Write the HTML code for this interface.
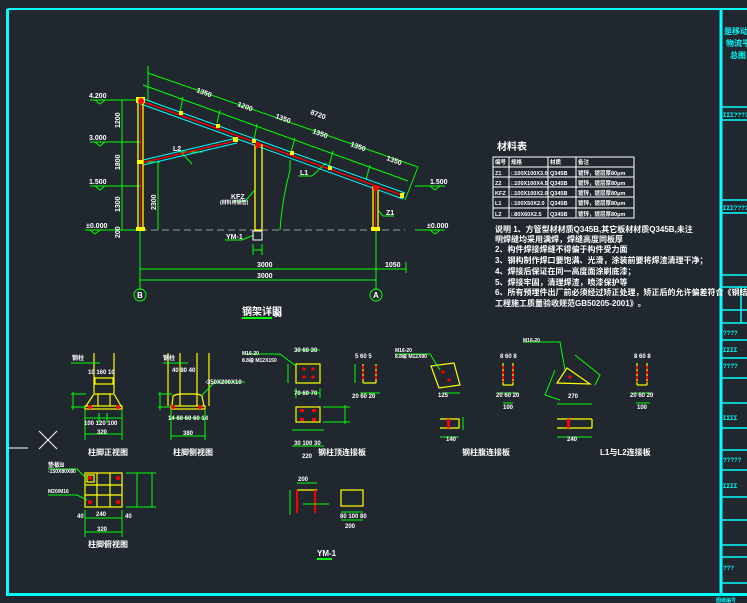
<!DOCTYPE html>
<html><head><meta charset="utf-8"><style>
html,body{margin:0;padding:0;background:#21272f;}
svg{display:block}
text{font-family:"Liberation Sans","Noto Sans CJK SC",sans-serif;fill:#fff;font-weight:bold}
</style></head><body>
<svg width="747" height="603" viewBox="0 0 747 603" xmlns="http://www.w3.org/2000/svg">
<rect width="747" height="603" fill="#21272f"/>
<!-- frame -->
<g stroke="#00ffff" fill="none">
<line x1="7.5" y1="9" x2="747" y2="9" stroke-width="2"/>
<line x1="7.5" y1="9" x2="7.5" y2="596" stroke-width="3"/>
<line x1="7" y1="594.5" x2="747" y2="594.5" stroke-width="3"/>
<line x1="721" y1="9" x2="721" y2="595" stroke-width="3"/>
<g stroke-width="1.5">
<line x1="721" y1="107" x2="747" y2="107"/><line x1="721" y1="120" x2="747" y2="120"/>
<line x1="721" y1="200" x2="747" y2="200"/><line x1="721" y1="213" x2="747" y2="213"/>
<line x1="721" y1="275" x2="747" y2="275"/><line x1="721" y1="287" x2="747" y2="287"/>
<line x1="721" y1="310" x2="747" y2="310"/><line x1="721" y1="323" x2="747" y2="323"/>
<line x1="721" y1="340" x2="747" y2="340"/><line x1="721" y1="358" x2="747" y2="358"/>
<line x1="721" y1="378" x2="747" y2="378"/><line x1="721" y1="403" x2="747" y2="403"/>
<line x1="721" y1="428" x2="747" y2="428"/><line x1="721" y1="450" x2="747" y2="450"/>
<line x1="721" y1="470" x2="747" y2="470"/><line x1="721" y1="497" x2="747" y2="497"/>
<line x1="721" y1="520" x2="747" y2="520"/><line x1="721" y1="545" x2="747" y2="545"/>
<line x1="721" y1="557" x2="747" y2="557"/><line x1="721" y1="583" x2="747" y2="583"/>
<line x1="741" y1="287" x2="741" y2="323"/>
</g></g>
<g fill="#00ffff" font-size="8">
<text x="724" y="34" style="fill:#00ffff">是移动</text><text x="726" y="46" style="fill:#00ffff">物流平</text><text x="730" y="58" style="fill:#00ffff">总图</text>
<text x="723" y="117" style="fill:#00ffff" font-size="6">ΣΣΣ????</text><text x="723" y="210" style="fill:#00ffff" font-size="6">ΣΣΣ????</text>
<text x="723" y="335" style="fill:#00ffff" font-size="6">????</text><text x="723" y="352" style="fill:#00ffff" font-size="6">ΣΣΣΣ</text>
<text x="723" y="368" style="fill:#00ffff" font-size="6">????</text><text x="723" y="420" style="fill:#00ffff" font-size="6">ΣΣΣΣ</text>
<text x="723" y="462" style="fill:#00ffff" font-size="6">?????</text><text x="723" y="488" style="fill:#00ffff" font-size="6">ΣΣΣΣ</text>
<text x="723" y="570" style="fill:#00ffff" font-size="6">???</text><text x="716" y="602" style="fill:#00ffff" font-size="5">图纸编号</text>
</g>

<!-- ELEVATION -->
<g stroke="#00ff00" stroke-width="1" fill="none">
<line x1="148" y1="73" x2="418" y2="167"/>
<line x1="143" y1="85" x2="408" y2="181"/>
<line x1="148" y1="66" x2="148" y2="100"/>
<line x1="418" y1="167" x2="405" y2="200"/>
<line x1="183" y1="97" x2="180" y2="112"/><line x1="220" y1="110" x2="217" y2="123"/>
<line x1="257" y1="124" x2="254" y2="140"/><line x1="295" y1="138" x2="291" y2="152"/>
<line x1="333" y1="151" x2="329" y2="166"/><line x1="370" y1="165" x2="366" y2="180"/>
<line x1="122" y1="100" x2="122" y2="230"/>
<line x1="116" y1="142" x2="140" y2="142"/><line x1="116" y1="186" x2="140" y2="186"/><line x1="116" y1="100" x2="140" y2="100"/>
<line x1="90" y1="100" x2="138" y2="100"/><line x1="90" y1="142" x2="138" y2="142"/><line x1="90" y1="186" x2="138" y2="186"/><line x1="85" y1="230" x2="138" y2="230"/>
<line x1="415" y1="186" x2="445" y2="186"/><line x1="415" y1="230" x2="445" y2="230"/>
<line x1="158" y1="162" x2="158" y2="230"/><line x1="143" y1="162" x2="160" y2="162"/>
<line x1="140" y1="230" x2="140" y2="290"/><line x1="376" y1="230" x2="376" y2="290"/>
<line x1="140" y1="269" x2="406" y2="269"/><line x1="140" y1="280" x2="376" y2="280"/>
<line x1="406" y1="262" x2="406" y2="273"/>
<circle cx="140" cy="295" r="6"/><circle cx="376" cy="295" r="6"/>
<path d="M280 230 Q282 200 290 170 L290 160"/>
<line x1="181" y1="152" x2="203" y2="152"/><line x1="181" y1="152" x2="192" y2="164"/>
<line x1="298" y1="176" x2="312" y2="176"/><line x1="312" y1="176" x2="326" y2="163"/>
<line x1="234" y1="201" x2="245" y2="201"/><line x1="245" y1="201" x2="255" y2="190"/>
<line x1="225" y1="240" x2="242" y2="240"/><line x1="242" y1="240" x2="254" y2="235"/>
<line x1="383" y1="216" x2="394" y2="216"/><line x1="383" y1="216" x2="378" y2="210"/>
<line x1="253" y1="244" x2="253" y2="255"/><line x1="262" y1="244" x2="262" y2="255"/><line x1="253" y1="250" x2="262" y2="250"/>
<line x1="242" y1="318" x2="272" y2="318" stroke-width="2"/>
</g>
<g fill="none" stroke="#00ff00" stroke-width="1">
<path d="M95 100 l5 4 l5 -4"/><path d="M95 142 l5 4 l5 -4"/><path d="M95 186 l5 4 l5 -4"/><path d="M90 230 l5 4 l5 -4"/>
<path d="M430 186 l5 4 l5 -4"/><path d="M430 230 l5 4 l5 -4"/>
</g>
<line x1="140" y1="230" x2="405" y2="230" stroke="#999" stroke-dasharray="7,4"/>
<!-- rafter -->
<g fill="none">
<line x1="141" y1="98" x2="405" y2="193" stroke="#00ffff" stroke-width="1"/>
<line x1="141" y1="104" x2="403" y2="199" stroke="#00ffff" stroke-width="1"/>
<line x1="141" y1="101" x2="404" y2="196" stroke="#ff0000" stroke-width="1.3"/>
<line x1="143" y1="160" x2="237" y2="138" stroke="#00ffff"/>
<line x1="143" y1="165" x2="237" y2="143" stroke="#00ffff"/>
<line x1="143" y1="162.5" x2="237" y2="140.5" stroke="#ff0000" stroke-width="1.2"/>
<rect x="138" y="100" width="5" height="130" stroke="#ffff00" stroke-width="1.3"/>
<line x1="140.5" y1="100" x2="140.5" y2="230" stroke="#ff0000"/>
<rect x="255" y="145" width="7" height="85" stroke="#ffff00" stroke-width="1.3"/>
<rect x="373" y="187" width="5" height="43" stroke="#ffff00" stroke-width="1.3"/>
<line x1="375.5" y1="187" x2="375.5" y2="230" stroke="#ff0000"/>
<rect x="253" y="231" width="9" height="9" stroke="#fff"/>
</g>
<g fill="#ffff00">
<rect x="136" y="97" width="9" height="6"/><rect x="136" y="227" width="9" height="4"/><rect x="371" y="227" width="9" height="4"/>
<rect x="179" y="111" width="4" height="4"/><rect x="216" y="124" width="4" height="4"/><rect x="252" y="139" width="4" height="4"/>
<rect x="290" y="151" width="4" height="4"/><rect x="328" y="166" width="4" height="4"/><rect x="400" y="193" width="4" height="5"/>
<rect x="233" y="137" width="5" height="5"/><rect x="137" y="160" width="6" height="4"/>
</g>
<circle cx="258" cy="145" r="3" fill="#ff0000"/><circle cx="376" cy="188" r="3" fill="#ff0000"/><circle cx="141" cy="101" r="3" fill="#ff0000"/>
<g font-size="7">
<text x="89" y="98">4.200</text><text x="89" y="140">3.000</text><text x="89" y="184">1.500</text><text x="86" y="228">±0.000</text>
<text x="430" y="184">1.500</text><text x="427" y="228">±0.000</text>
<text x="257" y="267">3000</text><text x="385" y="267">1050</text><text x="257" y="278">3000</text>
<text x="137" y="298" font-size="8">B</text><text x="373" y="298" font-size="8">A</text>
<text x="242" y="315" font-size="10">钢架详图</text><text x="274" y="317" font-size="7">50</text>
<text x="173" y="151">L2</text><text x="300" y="175">L1</text><text x="231" y="199">KFZ</text><text x="220" y="204" font-size="5">(材料用钢管)</text>
<text x="226" y="239">YM-1</text><text x="386" y="215">Z1</text>
<text x="196" y="92" transform="rotate(20 196 92)">1350</text><text x="237" y="106" transform="rotate(20 237 106)">1200</text>
<text x="275" y="118" transform="rotate(20 275 118)">1350</text><text x="310" y="114" transform="rotate(20 310 114)">8720</text>
<text x="312" y="133" transform="rotate(20 312 133)">1350</text><text x="350" y="146" transform="rotate(20 350 146)">1350</text>
<text x="386" y="160" transform="rotate(20 386 160)">1350</text>
<g transform="rotate(-90)"><text x="-128" y="120">1200</text><text x="-170" y="120">1800</text><text x="-212" y="120">1300</text><text x="-238" y="120">200</text><text x="-210" y="156">2300</text></g>
</g>

<!-- MATERIAL TABLE -->
<text x="497" y="150" font-size="10" font-weight="normal">材料表</text>
<g stroke="#fff" fill="none" stroke-width="1">
<rect x="493" y="157" width="141" height="61"/>
<line x1="493" y1="167" x2="634" y2="167"/><line x1="493" y1="177" x2="634" y2="177"/><line x1="493" y1="187" x2="634" y2="187"/><line x1="493" y1="197" x2="634" y2="197"/><line x1="493" y1="208" x2="634" y2="208"/>
<line x1="509" y1="157" x2="509" y2="218"/><line x1="548" y1="157" x2="548" y2="218"/><line x1="576" y1="157" x2="576" y2="218"/>
</g>
<g font-size="5.5">
<text x="495" y="164">编号</text><text x="511" y="164">规格</text><text x="550" y="164">材质</text><text x="578" y="164">备注</text>
<text x="495" y="175">Z1</text><text x="511" y="175">□100X100X3.0</text><text x="550" y="175">Q345B</text><text x="578" y="175">镀锌，镀层厚80μm</text>
<text x="495" y="185">Z2</text><text x="511" y="185">□100X100X4.5</text><text x="550" y="185">Q345B</text><text x="578" y="185">镀锌，镀层厚80μm</text>
<text x="495" y="195">KFZ</text><text x="511" y="195">□100X100X2.0</text><text x="550" y="195">Q345B</text><text x="578" y="195">镀锌，镀层厚80μm</text>
<text x="495" y="205">L1</text><text x="511" y="205">□100X50X2.0</text><text x="550" y="205">Q345B</text><text x="578" y="205">镀锌，镀层厚80μm</text>
<text x="495" y="216">L2</text><text x="511" y="216">□80X60X2.5</text><text x="550" y="216">Q345B</text><text x="578" y="216">镀锌，镀层厚80μm</text>
</g>
<g font-size="8">
<text x="495" y="232">说明 1、方管型材材质Q345B,其它板材材质Q345B,未注</text>
<text x="495" y="242">明焊缝均采用满焊，焊缝高度同板厚</text>
<text x="495" y="252">2、构件焊接焊缝不得偏于构件受力面</text>
<text x="495" y="263">3、钢构制作焊口要饱满、光滑，涂装前要将焊渣清理干净；</text>
<text x="495" y="274">4、焊接后保证在同一高度面涂刷底漆；</text>
<text x="495" y="285">5、焊接牢固，清理焊渣，喷漆保护等</text>
<text x="495" y="295">6、所有预埋件出厂前必须经过矫正处理，矫正后的允许偏差符合《钢结构</text>
<text x="495" y="306">工程施工质量验收规范GB50205-2001》。</text>
</g>

<!-- X mark -->
<g stroke="#fff" stroke-width="1"><line x1="39" y1="431" x2="57" y2="449"/><line x1="57" y1="431" x2="39" y2="449"/><line x1="8" y1="448" x2="28" y2="448"/></g>

<!-- 柱脚正视图 -->
<g fill="none" stroke-width="1.2">
<g stroke="#ffff00">
<line x1="94" y1="353" x2="94" y2="393"/><line x1="114" y1="353" x2="114" y2="393"/>
<rect x="95" y="378" width="18" height="6"/>
<path d="M86 406 L94 394 L114 394 L121 406"/>
<line x1="98" y1="394" x2="98" y2="406"/><line x1="110" y1="394" x2="110" y2="406"/>
<rect x="85" y="406" width="37" height="3"/>
<line x1="168" y1="353" x2="168" y2="406"/><line x1="180" y1="353" x2="180" y2="406"/><line x1="197" y1="353" x2="197" y2="406"/><line x1="209" y1="353" x2="209" y2="406"/>
<path d="M172 406 L173 396 Q176 394 182 394 L194 394 Q200 394 202 396 L204 406"/>
<rect x="171" y="406" width="34" height="3"/>
<rect x="85" y="473" width="37" height="34"/>
<line x1="85" y1="485" x2="122" y2="485"/><line x1="85" y1="495" x2="122" y2="495"/>
<line x1="97" y1="473" x2="97" y2="507"/><line x1="110" y1="473" x2="110" y2="507"/>
<rect x="87" y="475" width="7" height="7"/>
<rect x="296" y="364" width="24" height="19"/><rect x="296" y="407" width="24" height="15"/>
<line x1="363" y1="364" x2="363" y2="383"/><line x1="376" y1="364" x2="376" y2="383"/><line x1="363" y1="383" x2="376" y2="383"/>
<path d="M431 366 L454 363 L460 385 L439 388 Z"/>
<line x1="503" y1="363" x2="503" y2="385"/><line x1="513" y1="363" x2="513" y2="385"/><line x1="503" y1="385" x2="513" y2="385"/>
<path d="M567 368 L590 384 L557 383 Z"/>
<line x1="637" y1="363" x2="637" y2="385"/><line x1="647" y1="363" x2="647" y2="385"/><line x1="637" y1="385" x2="647" y2="385"/>
<path d="M440 419 L459 419 L459 428 L440 428"/>
<path d="M557 419 L592 419 M557 428 L592 428 M592 419 L592 428"/>
<rect x="341" y="490" width="22" height="16"/>
<line x1="297" y1="490" x2="317" y2="490"/>
</g>
<g stroke="#ff0000" stroke-width="2">
<line x1="297" y1="490" x2="297" y2="513"/><line x1="315" y1="490" x2="315" y2="513"/>
<line x1="363" y1="366" x2="363" y2="380" stroke-dasharray="3,2"/><line x1="376" y1="366" x2="376" y2="380" stroke-dasharray="3,2"/>
<line x1="503" y1="366" x2="503" y2="382" stroke-dasharray="3,2"/><line x1="513" y1="366" x2="513" y2="382" stroke-dasharray="3,2"/>
<line x1="637" y1="366" x2="637" y2="382" stroke-dasharray="3,2"/><line x1="647" y1="366" x2="647" y2="382" stroke-dasharray="3,2"/>
</g>
<g stroke="#00ff00" stroke-width="1">
<line x1="85" y1="418" x2="122" y2="418"/><line x1="85" y1="434" x2="122" y2="434"/><line x1="85" y1="410" x2="85" y2="440"/><line x1="122" y1="410" x2="122" y2="440"/><line x1="99" y1="413" x2="99" y2="423"/><line x1="107" y1="413" x2="107" y2="423"/>
<line x1="171" y1="418" x2="205" y2="418"/><line x1="171" y1="436" x2="205" y2="436"/><line x1="171" y1="410" x2="171" y2="440"/><line x1="205" y1="410" x2="205" y2="440"/>
<line x1="71" y1="394" x2="86" y2="394"/><line x1="71" y1="407" x2="86" y2="407"/><line x1="73" y1="392" x2="73" y2="410"/>
<line x1="158" y1="394" x2="172" y2="394"/><line x1="158" y1="407" x2="172" y2="407"/><line x1="160" y1="392" x2="160" y2="410"/>
<line x1="71" y1="363" x2="100" y2="363"/><line x1="163" y1="363" x2="188" y2="363"/>
<path d="M202 395 L215 382 L245 382"/>
<line x1="85" y1="518" x2="122" y2="518"/><line x1="85" y1="532" x2="122" y2="532"/><line x1="85" y1="510" x2="85" y2="537"/><line x1="122" y1="510" x2="122" y2="537"/>
<line x1="126" y1="473" x2="156" y2="473"/><line x1="126" y1="507" x2="156" y2="507"/><line x1="152" y1="473" x2="152" y2="507"/><line x1="137" y1="473" x2="137" y2="507"/>
<path d="M48 469 L77 469 L87 479"/><path d="M48 495 L77 495 L87 500"/>
<line x1="297" y1="350" x2="320" y2="350"/><line x1="296" y1="393" x2="320" y2="393"/><line x1="296" y1="388" x2="296" y2="398"/><line x1="320" y1="388" x2="320" y2="398"/>
<line x1="292" y1="430" x2="324" y2="430"/><line x1="292" y1="446" x2="324" y2="446"/>
<path d="M246 354 L280 354 L296 366"/>
<line x1="288" y1="364" x2="288" y2="383"/>
<line x1="323" y1="407" x2="350" y2="407"/><line x1="323" y1="422" x2="350" y2="422"/><line x1="345" y1="405" x2="345" y2="424"/>
<line x1="360" y1="393" x2="380" y2="393"/><line x1="355" y1="364" x2="355" y2="383"/>
<path d="M395 354 L430 354 L440 370"/>
<line x1="443" y1="393" x2="460" y2="393"/><line x1="440" y1="437" x2="459" y2="437"/><line x1="463" y1="417" x2="463" y2="430"/>
<line x1="498" y1="393" x2="518" y2="393"/><line x1="503" y1="403" x2="513" y2="403"/>
<path d="M523 342 L560 342 L565 370"/><line x1="557" y1="404" x2="592" y2="404"/><line x1="557" y1="437" x2="592" y2="437"/>
<path d="M575 355 L600 375 L595 385"/><path d="M555 370 L545 395 L560 400"/>
<line x1="633" y1="393" x2="651" y2="393"/><line x1="636" y1="403" x2="650" y2="403"/>
<line x1="297" y1="483" x2="317" y2="483"/><line x1="290" y1="490" x2="290" y2="515"/><line x1="303" y1="504" x2="329" y2="504"/>
<line x1="341" y1="512" x2="363" y2="512"/><line x1="341" y1="520" x2="363" y2="520"/>
<line x1="317" y1="559" x2="332" y2="559" stroke-width="2"/>
<line x1="88" y1="458" x2="124" y2="458" stroke="none"/>
</g>
<g fill="#ff0000">
<circle cx="90" cy="407" r="2"/><circle cx="118" cy="407" r="2"/><circle cx="173" cy="407" r="2"/><circle cx="200" cy="407" r="2"/>
<circle cx="90" cy="478" r="2"/><circle cx="118" cy="478" r="2"/><circle cx="90" cy="502" r="2"/><circle cx="118" cy="502" r="2"/>
<circle cx="304" cy="369" r="1.6"/><circle cx="313" cy="369" r="1.6"/><circle cx="304" cy="377" r="1.6"/><circle cx="313" cy="377" r="1.6"/>
<circle cx="443" cy="372" r="1.6"/><circle cx="449" cy="380" r="1.6"/><circle cx="570" cy="377" r="1.6"/>
<rect x="300" y="409" width="4" height="3"/><rect x="312" y="409" width="4" height="3"/><rect x="300" y="418" width="4" height="3"/><rect x="312" y="418" width="4" height="3"/>
<rect x="447" y="419" width="3" height="9"/><rect x="567" y="419" width="3" height="9"/>
</g>
</g>
<g font-size="6">
<text x="72" y="360">钢柱</text><text x="88" y="374">10 160 10</text><text x="84" y="425">100 120 100</text><text x="97" y="434">320</text>
<text x="163" y="360">钢柱</text><text x="172" y="372">40 80 40</text><text x="205" y="384">-350X200X10</text><text x="168" y="420">14 60 60 60 14</text><text x="183" y="435">380</text>
<text x="88" y="455" font-size="8">柱脚正视图</text><text x="173" y="455" font-size="8">柱脚侧视图</text>
<text x="48" y="467">垫板B</text><text x="48" y="473" font-size="5">-150X80X80</text><text x="48" y="493" font-size="5">M20/M16</text>
<text x="77" y="518">40</text><text x="96" y="516">240</text><text x="125" y="518">40</text><text x="97" y="531">320</text>
<text x="88" y="547" font-size="8">柱脚俯视图</text>
<text x="242" y="355" font-size="5">M16-20</text><text x="242" y="362" font-size="5">8.8级 M12X150</text>
<text x="294" y="352">30 60 30</text><text x="294" y="395">70 60 70</text><text x="294" y="445">30 100 30</text><text x="302" y="458">220</text>
<text x="355" y="358">5 60 5</text><text x="352" y="398">20 60 20</text>
<text x="318" y="455" font-size="8">钢柱顶连接板</text><text x="462" y="455" font-size="8">钢柱腹连接板</text><text x="600" y="455" font-size="8">L1与L2连接板</text>
<text x="395" y="352" font-size="5">M16-20</text><text x="395" y="358" font-size="5">8.8级 M12X90</text>
<text x="438" y="397">125</text><text x="446" y="441">140</text><text x="500" y="358">8 60 8</text><text x="496" y="397">20 60 20</text><text x="503" y="409">100</text>
<text x="523" y="342" font-size="5">M16-20</text><text x="568" y="398">270</text><text x="567" y="441">240</text>
<text x="634" y="358">8 60 8</text><text x="630" y="397">20 60 20</text><text x="637" y="409">100</text>
<text x="298" y="481">200</text><text x="340" y="518">80 100 80</text><text x="345" y="528">200</text>
<text x="317" y="556" font-size="8">YM-1</text>
</g>
</svg>
</body></html>
